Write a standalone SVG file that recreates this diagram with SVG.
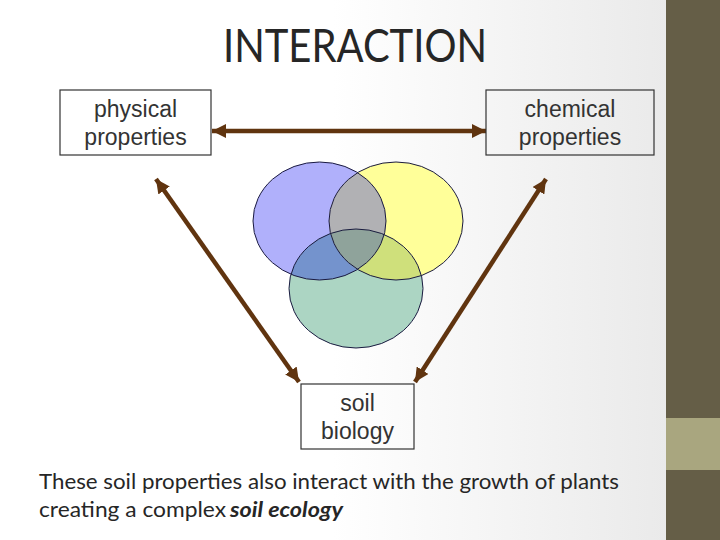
<svg xmlns="http://www.w3.org/2000/svg" width="720" height="540" viewBox="0 0 720 540">
<defs>
<linearGradient id="bg" x1="0" y1="0" x2="666" y2="0" gradientUnits="userSpaceOnUse">
<stop offset="0.5" stop-color="#ffffff"/>
<stop offset="1" stop-color="#eaeaea"/>
</linearGradient>
<marker id="ah" viewBox="0 0 12 12" refX="12" refY="6" markerWidth="14" markerHeight="14" markerUnits="userSpaceOnUse" orient="auto-start-reverse">
<path d="M0,0 L12,6 L0,12 Z" fill="#60340f"/>
</marker>
<ellipse id="eB" cx="319.5" cy="221" rx="66.5" ry="59"/>
<ellipse id="eY" cx="396" cy="221" rx="67" ry="59"/>
<ellipse id="eG" cx="356" cy="288.5" rx="67" ry="59.5"/>
<clipPath id="cB"><use href="#eB"/></clipPath>
<clipPath id="cY"><use href="#eY"/></clipPath>
</defs>
<style>
.box{fill:none;stroke:#333333;stroke-width:1.2}
.bt{font-family:"Liberation Sans",Arial,sans-serif;font-size:23px;fill:#333333;text-anchor:middle}
.conn{stroke:#60340f;stroke-width:4.5;fill:none;marker-start:url(#ah);marker-end:url(#ah)}
.body{font-family:Lato,"Open Sans",sans-serif;font-size:21px;fill:#262626}
.ring{fill:none;stroke:#1a1a40;stroke-width:1}
</style>
<rect x="0" y="0" width="720" height="540" fill="url(#bg)"/>
<rect x="666" y="0" width="54" height="540" fill="#655e47"/>
<rect x="666" y="418" width="54" height="52" fill="#a9a67f"/>
<text x="355" y="62" font-family="Lato,'Open Sans',sans-serif" font-size="47" fill="#262626" text-anchor="middle" textLength="264" lengthAdjust="spacingAndGlyphs">INTERACTION</text>
<g id="venn">
<use href="#eB" fill="#b0b0fb"/>
<use href="#eY" fill="#ffff99"/>
<use href="#eG" fill="#acd5c3"/>
<use href="#eY" fill="#b1b1b4" clip-path="url(#cB)"/>
<use href="#eG" fill="#7493cd" clip-path="url(#cB)"/>
<use href="#eG" fill="#cfe07b" clip-path="url(#cY)"/>
<g clip-path="url(#cY)"><use href="#eG" fill="#8fa39b" clip-path="url(#cB)"/></g>
<use href="#eB" class="ring"/>
<use href="#eY" class="ring"/>
<use href="#eG" class="ring"/>
</g>
<g id="connectors">
<line class="conn" x1="212" y1="131" x2="486" y2="131"/>
<line class="conn" x1="156" y1="179" x2="299" y2="382"/>
<line class="conn" x1="546" y1="179" x2="415" y2="382"/>
</g>
<g id="physical">
<rect class="box" x="60" y="90" width="151" height="65"/>
<text class="bt" x="135.5" y="117">physical</text>
<text class="bt" x="135.5" y="145">properties</text>
</g>
<g id="chemical">
<rect class="box" x="486" y="90" width="168" height="65"/>
<text class="bt" x="570" y="117">chemical</text>
<text class="bt" x="570" y="145">properties</text>
</g>
<g id="biology">
<rect class="box" x="301" y="384" width="113" height="65"/>
<text class="bt" x="357.5" y="411">soil</text>
<text class="bt" x="357.5" y="439">biology</text>
</g>
<text class="body" x="39" y="489" textLength="580" lengthAdjust="spacingAndGlyphs">These soil properties also interact with the growth of plants</text>
<text class="body" x="39" y="517" textLength="187" lengthAdjust="spacingAndGlyphs">creating a complex</text>
<text class="body" x="230" y="517" font-weight="bold" font-style="italic" textLength="113" lengthAdjust="spacingAndGlyphs">soil ecology</text>
</svg>
